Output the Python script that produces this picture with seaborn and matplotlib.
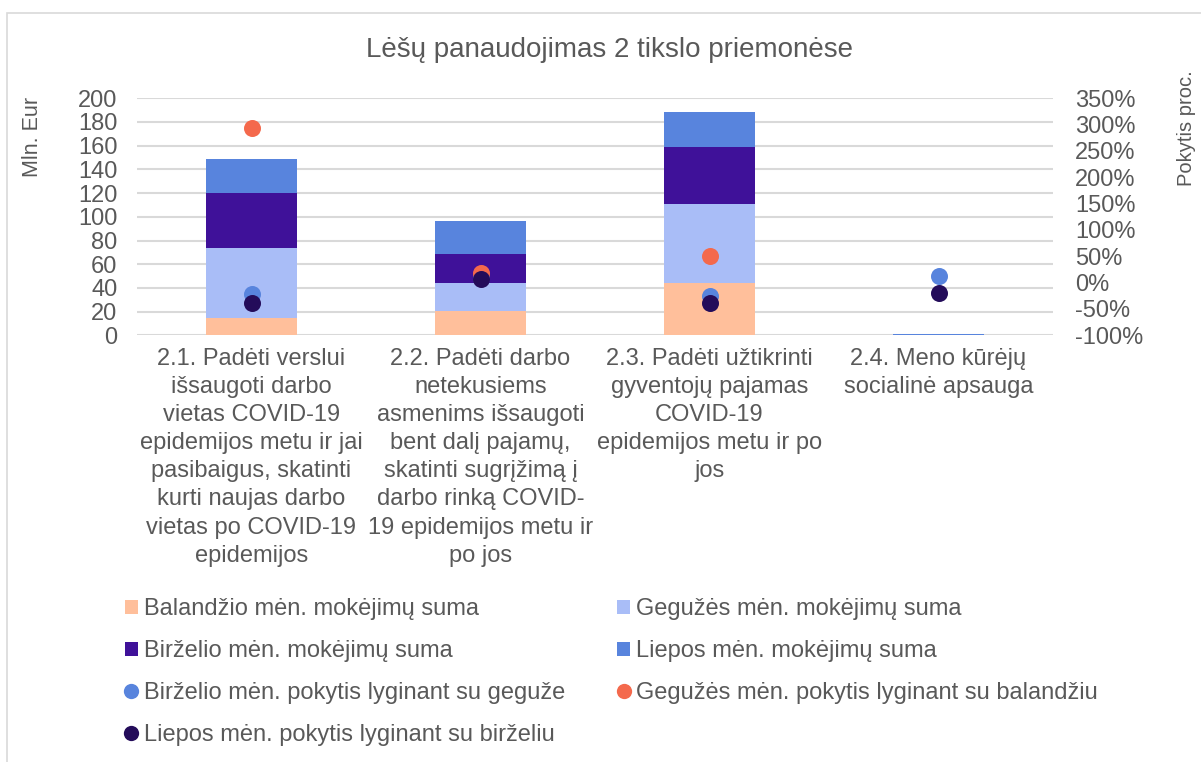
import numpy as np
import pandas as pd
import matplotlib
matplotlib.use("Agg")
import matplotlib.pyplot as plt
from matplotlib.patches import Rectangle
from matplotlib.lines import Line2D
from matplotlib.ticker import FuncFormatter, MultipleLocator
import seaborn as sns

# ---------------- data ----------------
categories = [
    "2.1. Padėti verslui\nišsaugoti darbo\nvietas COVID-19\nepidemijos metu ir jai\npasibaigus, skatinti\nkurti naujas darbo\nvietas po COVID-19\nepidemijos",
    "2.2. Padėti darbo\nnetekusiems\nasmenims išsaugoti\nbent dalį pajamų,\nskatinti sugrįžimą į\ndarbo rinką COVID-\n19 epidemijos metu ir\npo jos",
    "2.3. Padėti užtikrinti\ngyventojų pajamas\nCOVID-19\nepidemijos metu ir po\njos",
    "2.4. Meno kūrėjų\nsocialinė apsauga",
]
balandis = [14.6, 20.5, 44.1, 0.0]
geguze = [59.3, 23.9, 66.7, 0.3]
birzelis = [45.9, 24.5, 48.1, 0.3]
liepa = [29.0, 27.8, 29.3, 0.3]

pok_birz_geg = [-0.21, 0.08, -0.25, 0.13]
pok_geg_bal = [2.93, 0.19, 0.51, np.nan]
pok_liep_birz = [-0.38, 0.065, -0.39, -0.19]

bar_labels = [
    "Balandžio mėn. mokėjimų suma",
    "Gegužės mėn. mokėjimų suma",
    "Birželio mėn. mokėjimų suma",
    "Liepos mėn. mokėjimų suma",
]
dot_labels = [
    "Birželio mėn. pokytis lyginant su geguže",
    "Gegužės mėn. pokytis lyginant su balandžiu",
    "Liepos mėn. pokytis lyginant su birželiu",
]
title = "Lėšų panaudojimas 2 tikslo priemonėse"

# ---------------- style ----------------
bar_colors = ["#FFBF9B", "#A9BDF7", "#3F1199", "#5884DD"]
dot_colors = ["#5884DD", "#F4694C", "#240C5A"]
txt = "#595959"
grid_c = "#D9D9D9"

sns.set_theme(style="white")
plt.rcParams["font.family"] = ["Liberation Sans", "DejaVu Sans"]
FS = 17

fig = plt.figure(figsize=(12.01, 7.62), dpi=100)
W, H = 1201, 762
ax = fig.add_axes([137 / W, 1 - 335.3 / H, (1053 - 137) / W, (335.3 - 98.3) / H])

# frame around chart area
fig.patches.append(Rectangle((7 / W, -0.1), 1.2, (1 - 13 / H) + 0.1, transform=fig.transFigure,
                             fill=False, edgecolor="#D9D9D9", linewidth=1.2, zorder=0))

# stacked bars (drawn as cumulative layers, top to bottom)
df = pd.DataFrame({"cat": categories, "b": balandis, "g": geguze, "bz": birzelis, "l": liepa})
layers = [df["b"], df["b"] + df["g"], df["b"] + df["g"] + df["bz"], df["b"] + df["g"] + df["bz"] + df["l"]]
for i in [3, 2, 1, 0]:
    sns.barplot(x=df["cat"], y=layers[i], order=categories, color=bar_colors[i], width=0.4,
                saturation=1, ax=ax, zorder=2, linewidth=0)

ax.set_ylim(0, 200)
ax.set_xlim(-0.5, 3.5)
ax.yaxis.set_major_locator(MultipleLocator(20))
ax.grid(axis="y", color=grid_c, linewidth=1.5, zorder=0)
ax.set_axisbelow(True)
for s in ax.spines.values():
    s.set_visible(False)
ax.set_xlabel("")
ax.set_ylabel("")
ax.tick_params(axis="y", length=0, labelsize=FS, labelcolor=txt, pad=14)
ax.tick_params(axis="x", length=0, labelsize=FS, labelcolor=txt, pad=9)
ax.set_xticks(range(len(categories)))
ax.set_xticklabels(categories, linespacing=1.36, va="top")

# percentage dots on secondary axis
ax2 = ax.twinx()
pdots = pd.DataFrame({"x": np.arange(4), "a": pok_birz_geg, "b": pok_geg_bal, "c": pok_liep_birz})
for col, c in zip(["a", "b", "c"], dot_colors):
    sns.scatterplot(data=pdots, x="x", y=col, color=c, s=150, linewidth=0, ax=ax2, zorder=3)
ax2.set_ylim(-1.0, 3.5)
ax2.set_xlim(-0.5, 3.5)
ax2.yaxis.set_major_locator(MultipleLocator(0.5))
ax2.yaxis.set_major_formatter(FuncFormatter(lambda v, p: f"{v*100:.0f}%"))
ax2.tick_params(axis="y", length=0, labelsize=FS, labelcolor=txt, pad=16)
ax2.set_ylabel("")
ax2.set_xlabel("")
for s in ax2.spines.values():
    s.set_visible(False)
ax2.grid(False)

# titles
fig.text(610 / W, 1 - 50 / H, title, ha="center", va="center", fontsize=20, color=txt)
fig.text(33 / W, 1 - 137 / H, "Mln. Eur", rotation=90, ha="center", va="center", fontsize=15.5, color=txt)
fig.text(1186 / W, 1 - 128 / H, "Pokytis proc.", rotation=90, ha="center", va="center", fontsize=14.5, color=txt)

# legend (row-major ordering via column-major fill)
hb = [Rectangle((0, 0), 1, 1, facecolor=c, edgecolor="none") for c in bar_colors]
hd = [Line2D([], [], marker="o", linestyle="none", markersize=11, markerfacecolor=c, markeredgecolor="none")
      for c in dot_colors]
handles = [hb[0], hb[2], hd[0], hd[2], hb[1], hb[3], hd[1]]
labels = [bar_labels[0], bar_labels[2], dot_labels[0], dot_labels[2], bar_labels[1], bar_labels[3], dot_labels[1]]
leg = fig.legend(handles, labels, ncol=2, loc="upper left", bbox_to_anchor=(125 / W, 1 - 598 / H),
                 frameon=False, fontsize=FS, handlelength=0.55, handleheight=0.55, handletextpad=0.25,
                 columnspacing=2.2, labelspacing=0.85, labelcolor=txt, borderpad=0, borderaxespad=0)

fig.savefig("out.png", dpi=100, facecolor="white")
